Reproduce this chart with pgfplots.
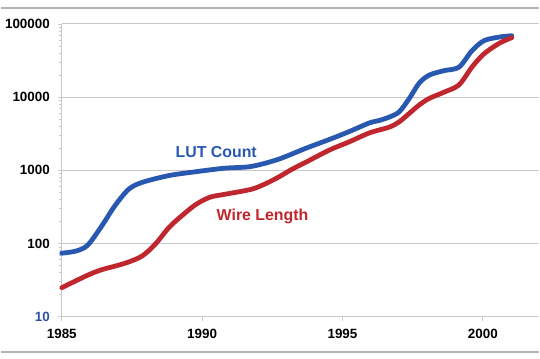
\documentclass[border=0pt]{standalone}
\usepackage{pgfplots}
\pgfplotsset{compat=1.18}
\usepackage{fontspec}
\setmainfont{Liberation Sans}
\definecolor{lutblue}{RGB}{40,88,176}
\definecolor{wirered}{RGB}{192,38,45}
\definecolor{labblue}{RGB}{46,80,160}
\definecolor{gridgray}{RGB}{200,200,200}
\begin{document}
\begin{tikzpicture}
\path (-61bp,-42bp) rectangle (479bp,318bp);
\draw[color=gridgray!90!black,line width=1.5bp] (-61bp,310bp) -- (479bp,310bp);
\draw[color=gridgray!90!black,line width=2bp] (-61bp,-35bp) -- (479bp,-35bp);
\begin{axis}[
  at={(0,0)}, anchor=south west,
  scale only axis, width=479bp, height=294bp,
  xmin=1985, xmax=2002, ymin=10, ymax=100000,
  ymode=log,
  axis x line*=bottom, axis y line*=left,
  axis line style={gridgray, line width=1bp},
  ymajorgrids, grid style={gridgray, line width=1bp},
  tick align=outside, major tick length=4bp,
  tick style={gridgray, line width=0.8bp},
  minor tick num=0,
  ytick={10,100,1000,10000,100000},
  yticklabels={\textcolor{labblue}{10},100,1000,10000,100000},
  xtick={1985,1990,1995,2000},
  xticklabels={1985,1990,1995,2000},
  ticklabel style={font=\fontsize{13.5}{16}\selectfont\bfseries},
  yticklabel style={xshift=-4.5bp},
  xticklabel style={yshift=-5bp},
  clip=false,
]
\addplot[color=lutblue, line width=4.8bp, smooth, line cap=round] coordinates {
(1985.00,74) (1985.50,79) (1985.92,95) (1986.42,173) (1986.88,324) (1987.38,551)
(1987.87,687) (1988.83,851) (1989.79,960) (1990.79,1070) (1991.74,1130)
(1992.70,1410) (1993.69,2000) (1994.54,2650) (1995.25,3400) (1995.96,4450)
(1996.31,4800) (1996.67,5350) (1997.02,6300) (1997.38,9600) (1997.73,15500)
(1998.09,20000) (1998.62,23000) (1999.15,25700) (1999.61,43000) (2000.04,59000)
(2000.57,66000) (2001.03,69000)
};
\addplot[color=wirered, line width=4.8bp, smooth, line cap=round] coordinates {
(1985.00,25) (1985.92,37) (1986.42,44) (1986.88,49) (1987.38,56) (1987.87,68)
(1988.33,98) (1988.83,168) (1989.33,250) (1989.79,345) (1990.28,430) (1990.79,470)
(1991.74,550) (1992.23,650) (1992.70,800) (1993.19,1030) (1993.69,1290)
(1994.54,1900) (1995.25,2460) (1995.96,3250) (1996.67,3900) (1997.02,4600)
(1997.38,6000) (1997.73,7800) (1998.09,9600) (1998.62,11700) (1999.15,14700)
(1999.61,25700) (2000.04,39000) (2000.57,54000) (2001.03,65000)
};
\end{axis}
\node[anchor=base, text=lutblue, font=\fontsize{16}{19}\selectfont\bfseries, inner sep=0pt] at (155bp,159.5bp) {LUT Count};
\node[anchor=base, text=wirered, font=\fontsize{16}{19}\selectfont\bfseries, inner sep=0pt] at (201.5bp,96.5bp) {Wire Length};
\end{tikzpicture}
\end{document}
